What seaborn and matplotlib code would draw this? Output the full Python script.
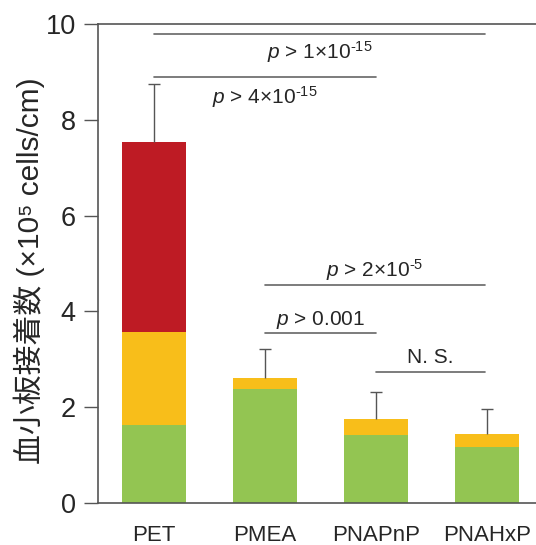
import numpy as np
import pandas as pd
import matplotlib
matplotlib.use('Agg')
import matplotlib.pyplot as plt
import seaborn as sns

# Dados
materials = ['PET', 'PMEA', 'PNAPnP', 'PNAHxP']
green = [1.62, 2.37, 1.41, 1.18]
yellow = [1.94, 0.23, 0.35, 0.27]
red = [3.98, 0.0, 0.0, 0.0]
err_top = [8.74, 3.22, 2.31, 1.97]

# comparações (grupo a, grupo b, altura da linha, altura do texto, rótulo)
comparisons = [
    (0, 2.98, 9.79, 9.42, r'$p$ > 1×10$^{\text{-15}}$'),
    (0, 2.0, 8.89, 8.48, r'$p$ > 4×10$^{\text{-15}}$'),
    (1, 2.98, 4.55, 4.86, r'$p$ > 2×10$^{\text{-5}}$'),
    (1, 2.0, 3.55, 3.82, r'$p$ > 0.001'),
    (2, 2.98, 2.73, 3.03, 'N. S.'),
]

sns.set_style('white')
plt.rcParams['font.family'] = ['Liberation Sans', 'Noto Sans CJK JP', 'DejaVu Sans']
plt.rcParams['mathtext.fontset'] = 'custom'
plt.rcParams['mathtext.rm'] = 'Liberation Sans'
plt.rcParams['mathtext.it'] = 'Liberation Sans:italic'

df = pd.DataFrame({'material': materials, 'green': green, 'yellow': yellow, 'red': red})
df['mid'] = df['green'] + df['yellow']
df['total'] = df['mid'] + df['red']
df['top'] = err_top

fig = plt.figure(figsize=(5.36, 5.45), dpi=100)
ax = fig.add_axes([0.183, 0.077, 0.817, 0.879])

# barras empilhadas (maior primeiro)
sns.barplot(data=df, x='material', y='total', color='#BE1B24', width=0.58, saturation=1, linewidth=0, ax=ax)
sns.barplot(data=df, x='material', y='mid', color='#F8BE1A', width=0.58, saturation=1, linewidth=0, ax=ax)
sns.barplot(data=df, x='material', y='green', color='#93C552', width=0.58, saturation=1, linewidth=0, ax=ax)

# barras de erro (só para cima)
x = np.arange(len(materials))
ax.vlines(x, df['total'], df['top'], color='#555555', lw=1)
ax.plot(x, df['top'], ls='none', marker='_', markersize=8, mew=1, color='#555555')

for a, b, yl, yt, label in comparisons:
    ax.plot([a, b], [yl, yl], color='#666666', lw=1.2)
    ax.text((a + b) / 2, yt, label, ha='center', va='center', fontsize=15)

ax.set_xlim(-0.505, 3.44)
ax.set_ylim(0, 10)
ax.set_yticks([0, 2, 4, 6, 8, 10])
ax.set_xlabel('')
ax.set_ylabel('血小板接着数 (×10⁵ cells/cm)', fontsize=21.5)
ax.yaxis.set_label_coords(-0.122, 0.485)
ax.tick_params(axis='y', left=True, length=10, width=1, color='#555555', labelsize=19.5, pad=6)
ax.tick_params(axis='x', bottom=False, labelsize=16, pad=12)
for s in ['left', 'bottom', 'top']:
    ax.spines[s].set_color('#555555')
    ax.spines[s].set_linewidth(1.2)
ax.spines['right'].set_visible(False)

plt.savefig('out.png', dpi=100)
